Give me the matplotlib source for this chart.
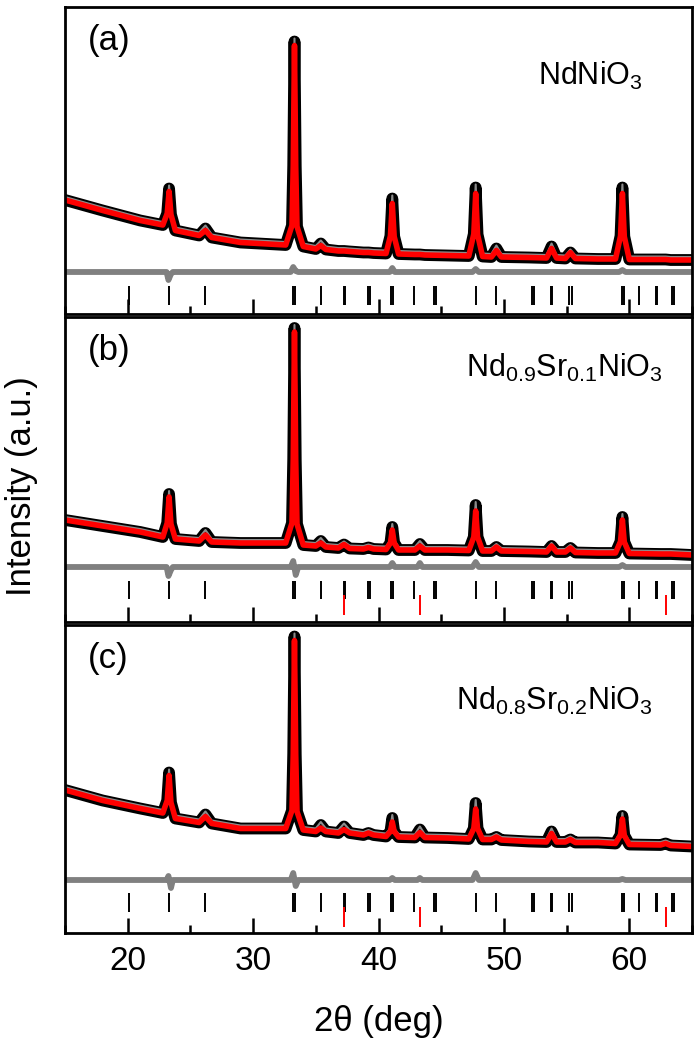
import numpy as np
import matplotlib
matplotlib.use("Agg")
import matplotlib.pyplot as plt
from matplotlib import transforms
from matplotlib.ticker import MultipleLocator

plt.rcParams['font.family'] = ['Liberation Sans', 'DejaVu Sans']
plt.rcParams['mathtext.fontset'] = 'custom'
plt.rcParams['mathtext.rm'] = 'Liberation Sans'

# 2theta knots shared by the three refinements
tt = [15, 18, 21, 22.8, 23.15, 23.3, 23.45, 23.8, 25.7, 26.2,
      26.7, 29, 32.6, 33.1, 33.2, 33.3, 33.4, 33.5, 34.0, 35.0,
      35.4, 35.8, 36.8, 37.25, 37.7, 38.8, 39.2, 39.6, 40.6, 40.95,
      41.1, 41.25, 41.6, 42.9, 43.3, 43.7, 45.5, 47.2, 47.6, 47.75,
      47.9, 48.3, 49.0, 49.4, 49.8, 52.0, 53.4, 53.8, 54.2, 54.9,
      55.3, 55.7, 57.5, 58.9, 59.3, 59.45, 59.6, 60.0, 62.5, 62.9,
      63.3, 65]

# calculated profiles (a.u.)
calc_a = [113.5, 103, 93, 88.5, 100, 122, 99, 83, 78, 83,
          76, 71, 68.5, 88, 148, 268, 147, 87, 67, 64.5,
          68, 64, 62.5, 62.5, 62, 61, 61, 60.5, 60, 77.5,
          110, 77, 59.5, 59, 59, 58.5, 58, 57.5, 79.5, 120,
          79, 57, 56.5, 63, 56.5, 56, 55.5, 65, 55.5, 55,
          61, 55, 54.5, 54.5, 77.5, 120, 77, 54, 54, 54,
          53.5, 53.5]
calc_b = [102, 96, 90, 85, 99, 125, 98, 83, 81, 87,
          80, 79, 79, 99, 163, 290, 162, 98, 77, 76,
          79, 75, 74, 77.5, 73.5, 73, 74.5, 73, 72.5, 79,
          92, 79, 72, 72, 76, 72, 72, 71.5, 85, 111,
          85, 71, 71, 75, 71, 70.5, 70, 76, 70, 70,
          74, 69.5, 69, 69, 80.5, 102, 80, 68.5, 68, 68,
          68, 67]
calc_c = [142.5, 132, 124, 119.5, 132, 157, 130, 114, 110, 116,
          109, 104, 104, 122, 179, 292, 178, 121, 102.5, 101,
          104.5, 101, 99.5, 103, 99.5, 97.5, 99.5, 97.5, 96, 101,
          110.5, 101, 95.5, 95, 100, 95, 94.5, 93.5, 104, 123.5,
          104, 93, 93, 95.5, 92.5, 91, 90.5, 99, 90.5, 90.5,
          93, 90, 90, 89, 97.5, 113.5, 97, 88, 87.5, 89,
          87, 86]

# where the measured points stand above the fit
obs_extra_a = {23.3: 3, 33.3: 4, 41.1: 5, 47.75: 6, 59.45: 6, 26.2: 2, 35.4: 2, 49.4: 2, 53.8: 2}
obs_extra_b = {23.3: 3, 33.3: 4, 41.1: 3, 47.75: 6, 59.45: 3, 26.2: 2, 35.4: 2, 43.3: 2}
obs_extra_c = {23.3: 3, 33.3: 4, 41.1: 4, 47.75: 6, 59.45: 3, 26.2: 2, 35.4: 3, 37.25: 3, 43.3: 3, 53.8: 2}

# difference curves (obs - calc)
diff_tt = [15, 23.1, 23.25, 23.45, 23.6, 33.0, 33.2, 33.4, 33.6, 40.9, 41.1,
           41.3, 43.1, 43.3, 43.5, 47.5, 47.75, 48.0, 59.2, 59.45, 59.7, 65]
resid_a = [0, 0, -8, -2, 0, 0, 5, 1, 0, 0, 4, 0, 0, 0, 0, 0, 3, 0, 0, 2, 0, 0]
resid_b = [0, 0, -9, -3, 0, 0, 6, -8, 0, 0, 4, 0, 0, 4, 0, 0, 5, 0, 0, 2, 0, 0]
resid_c = [0, 0, 4, -8, 0, 0, 7, -6, 0, 0, 2, 0, 0, 2, 0, 0, 7, 0, 0, 1, 0, 0]

# Bragg positions: nickelate and NiO
bragg_nno = [20.13, 23.33, 26.16, 33.21, 33.33, 35.42, 37.22, 37.34, 39.17, 39.29,
             41.03, 41.15, 42.82, 44.46, 44.58, 47.78, 49.40, 52.28, 52.40, 53.75,
             53.87, 55.21, 55.44, 59.45, 59.57, 60.81, 62.12, 62.24, 63.43, 63.55]
bragg_nio = [37.28, 43.30, 62.90]

panel_tags = ['(a)', '(b)', '(c)']
names = [r'NdNiO$_\mathregular{3}$',
         r'Nd$_\mathregular{0.9}$Sr$_\mathregular{0.1}$NiO$_\mathregular{3}$',
         r'Nd$_\mathregular{0.8}$Sr$_\mathregular{0.2}$NiO$_\mathregular{3}$']

W, H = 699, 1050
fig = plt.figure(figsize=(W / 100, H / 100), dpi=100)

left, right = 65, 692
# top, bottom (px), diff level, nickelate row, NiO row, name pos
layout = [
    dict(top=6.5, bot=313.5, dlev=41.5, row=(8.5, 28), nio=None, nx=0.922, ny=0.744),
    dict(top=316.5, bot=622, dlev=55, row=(23, 41), nio=(7, 27), nx=0.954, ny=0.802),
    dict(top=624.5, bot=932.5, dlev=52.5, row=(20.5, 39.5), nio=(5.5, 25.5), nx=0.938, ny=0.722),
]
calcs = [calc_a, calc_b, calc_c]
extras = [obs_extra_a, obs_extra_b, obs_extra_c]
resids = [resid_a, resid_b, resid_c]

for i, L in enumerate(layout):
    h = L['bot'] - L['top']
    ax = fig.add_axes([left / W, 1 - L['bot'] / H, (right - left) / W, h / H])
    calc = np.array(calcs[i], float)
    obs = calc.copy()
    for pos, d in extras[i].items():
        obs[tt.index(pos)] += d

    ax.plot(tt, obs, color='black', lw=8.5, solid_joinstyle='round', solid_capstyle='round')
    up = transforms.offset_copy(ax.transData, fig=fig, y=3, units='dots')
    ax.plot(tt, obs, color='0.55', lw=1.5, transform=up)
    ax.plot(tt, calc, color='red', lw=4, solid_joinstyle='round')
    ax.plot(diff_tt, np.array(resids[i]) + L['dlev'], color='0.5', lw=4.2)

    ax.vlines(bragg_nno, L['row'][0], L['row'][1], color='black', lw=1.4)
    if L['nio'] is not None:
        ax.vlines(bragg_nio, L['nio'][0], L['nio'][1], color='red', lw=1.4)

    ax.set_xlim(15, 65)
    ax.set_ylim(0, h)
    ax.set_yticks([])
    ax.xaxis.set_major_locator(MultipleLocator(10))
    ax.xaxis.set_minor_locator(MultipleLocator(5))
    ax.tick_params(axis='x', which='major', direction='in', length=11, width=1.8,
                   labelsize=24, pad=10, labelbottom=(i == 2))
    ax.tick_params(axis='x', which='minor', direction='in', length=6, width=1.8)
    for sp in ax.spines.values():
        sp.set_linewidth(2)

    ax.text(0.036, 1 - 34 / h, panel_tags[i], transform=ax.transAxes,
            ha='left', va='center', fontsize=25)
    ax.text(L['nx'], L['ny'], names[i], transform=ax.transAxes,
            ha='right', va='baseline', fontsize=22)

fig.text(21.7 / W, 1 - 486 / H, 'Intensity (a.u.)', rotation=90,
         ha='center', va='center', fontsize=25)
fig.text((left + right) / 2 / W, 1 - 1022 / H, '2\u03b8 (deg)',
         ha='center', va='center', fontsize=25)

fig.savefig('out.png', dpi=100)
